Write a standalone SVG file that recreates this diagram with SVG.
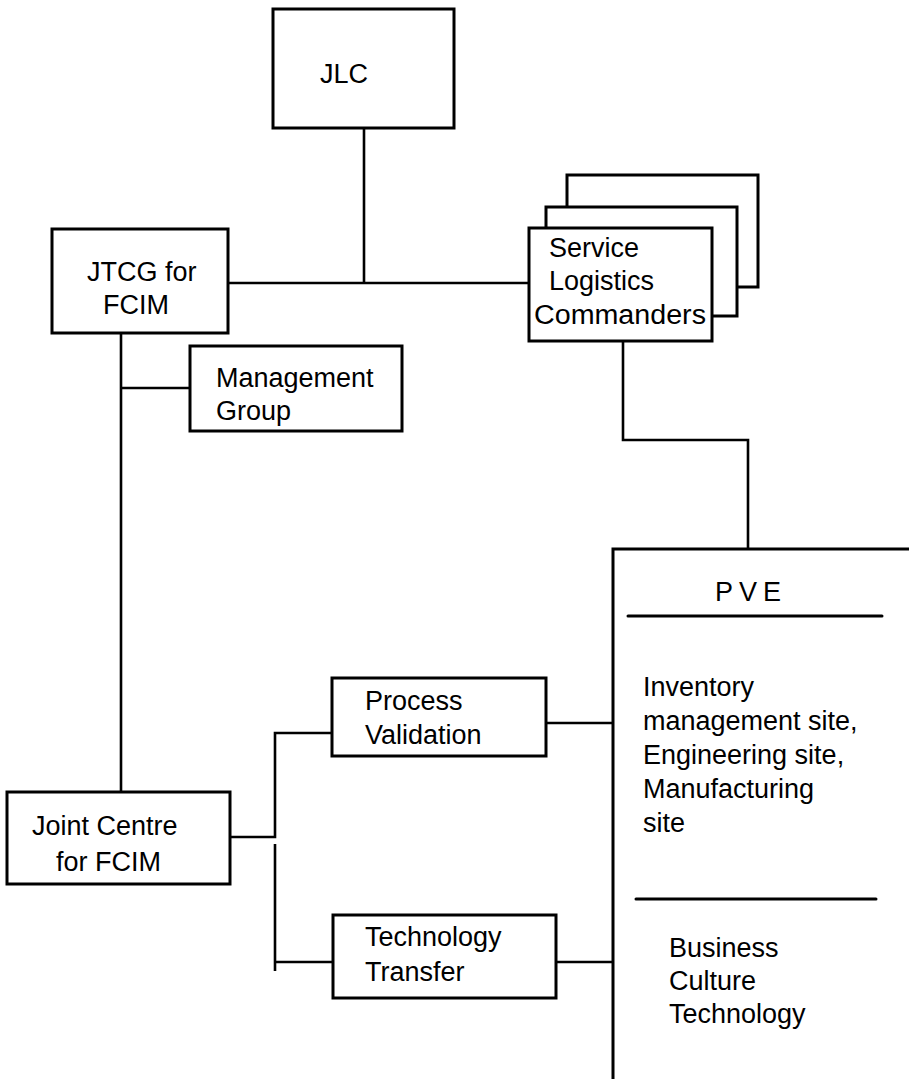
<svg xmlns="http://www.w3.org/2000/svg" width="909" height="1079" viewBox="0 0 909 1079">
  <style>
    .box { fill: #fff; stroke: #000; stroke-width: 3; }
    .edge { fill: none; stroke: #000; stroke-width: 2.6; }
    .rule { stroke: #000; stroke-width: 3; stroke-linecap: round; }
    text { font-family: "Liberation Sans", Arial, sans-serif; font-size: 27px; fill: #000; }
  </style>
  <rect width="909" height="1079" fill="#fff"/>

  <!-- connectors -->
  <g id="connectors">
    <path class="edge" d="M364 128 V283"/>
    <path class="edge" d="M228 283 H529"/>
    <path class="edge" d="M623 341 V440 H748 V549"/>
    <path class="edge" d="M121 333 V792"/>
    <path class="edge" d="M121 388 H190"/>
    <path class="edge" d="M230 837 H275 V733 H332"/>
    <path class="edge" d="M275 844 V971"/>
    <path class="edge" d="M275 962 H333"/>
    <path class="edge" d="M546 723 H613"/>
    <path class="edge" d="M556 962 H613"/>
  </g>

  <g id="jlc">
    <rect class="box" x="273" y="9" width="181" height="119"/>
    <text x="320" y="83">JLC</text>
  </g>

  <g id="jtcg">
    <rect class="box" x="52" y="229" width="176" height="104"/>
    <text x="87" y="281">JTCG for</text>
    <text x="103" y="314">FCIM</text>
  </g>

  <g id="service-logistics">
    <rect class="box" x="567" y="175" width="191" height="112"/>
    <rect class="box" x="546" y="207" width="191" height="109"/>
    <rect class="box" x="529" y="228" width="183" height="113"/>
    <text x="549" y="257">Service</text>
    <text x="549" y="290">Logistics</text>
    <text x="534" y="324" textLength="172" lengthAdjust="spacingAndGlyphs">Commanders</text>
  </g>

  <g id="management">
    <rect class="box" x="190" y="346" width="212" height="85"/>
    <text x="216" y="387">Management</text>
    <text x="216" y="420">Group</text>
  </g>

  <g id="joint-centre">
    <rect class="box" x="7" y="792" width="223" height="92"/>
    <text x="32" y="835">Joint Centre</text>
    <text x="56" y="871">for FCIM</text>
  </g>

  <g id="process-validation">
    <rect class="box" x="332" y="678" width="214" height="78"/>
    <text x="365" y="710">Process</text>
    <text x="365" y="744">Validation</text>
  </g>

  <g id="technology-transfer">
    <rect class="box" x="333" y="915" width="223" height="83"/>
    <text x="365" y="946">Technology</text>
    <text x="365" y="981">Transfer</text>
  </g>

  <g id="pve">
    <path class="edge" style="stroke-width:3" d="M613 1079 V549 H912"/>
    <text x="715" y="601" letter-spacing="6">PVE</text>
    <line class="rule" x1="628" y1="616" x2="882" y2="616"/>
    <text x="643" y="696">Inventory</text>
    <text x="643" y="730">management site,</text>
    <text x="643" y="764">Engineering site,</text>
    <text x="643" y="798">Manufacturing</text>
    <text x="643" y="832">site</text>
    <line class="rule" x1="636" y1="899" x2="876" y2="899"/>
    <text x="669" y="957">Business</text>
    <text x="669" y="990">Culture</text>
    <text x="669" y="1023">Technology</text>
  </g>
</svg>
